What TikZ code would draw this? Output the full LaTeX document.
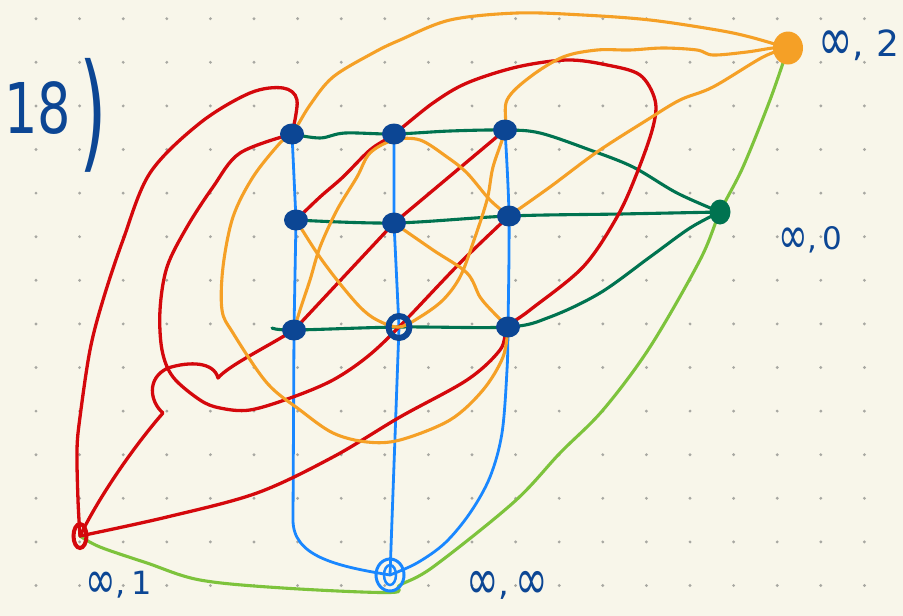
\documentclass[tikz,border=0pt]{standalone}
\usepackage{fontspec}
\newfontfamily\hand{DejaVu Sans}
\usetikzlibrary{shapes.geometric}
\definecolor{paper}{RGB}{248,246,234}
\definecolor{gdot}{RGB}{168,168,162}
\definecolor{ink}{RGB}{12,70,148}
\definecolor{lred}{RGB}{212,8,12}
\definecolor{lorange}{RGB}{245,160,38}
\definecolor{dgreen}{RGB}{0,115,80}
\definecolor{lgreen}{RGB}{125,195,60}
\definecolor{lblue}{RGB}{25,135,255}
\newcommand\myinf{\raisebox{-0.13em}{\scalebox{1.15}[1.7]{∞}}}
\pgfdeclarelayer{paperlayer}
\pgfdeclarelayer{lines}
\pgfsetlayers{paperlayer,lines,main}
\begin{document}
\begin{tikzpicture}[x=1pt,y=-1pt,
  pt/.style={ellipse, fill=ink, minimum width=24pt, minimum height=21pt, inner sep=0pt},
  ringpt/.style={ellipse, draw=ink, line width=6pt, minimum width=21pt, minimum height=22pt, inner sep=0pt},
  stroke/.style={line width=3.1pt, line cap=round, line join=round},
  bl/.style={stroke, lblue, line width=2.8pt},
  dg/.style={stroke, dgreen},
  lg/.style={stroke, lgreen},
  rd/.style={stroke, lred, line width=3.3pt},
  og/.style={stroke, lorange},
  lab/.style={text=ink, inner sep=0pt},
  sm/.style={smooth, tension=0.55}]
\begin{pgfonlayer}{paperlayer}
\fill[paper] (0,0) rectangle (903,616);
\foreach \i in {0,...,19}{\foreach \j in {0,...,13}{\fill[gdot] ({36+43.6*\i},{18.7+43.6*\j}) circle (1.6pt);}}
\end{pgfonlayer}
\useasboundingbox (0,0) rectangle (903,616);
% grid points
\node[pt] (A02) at (292,134) {};
\node[pt] (A12) at (394,134) {};
\node[pt] (A22) at (505,130) {};
\node[pt] (A01) at (296,220) {};
\node[pt] (A11) at (394,223) {};
\node[pt] (A21) at (509,216) {};
\node[pt] (A00) at (294,330) {};
\node[ringpt] (A10) at (399,327) {};
\node[pt] (A20) at (508,327) {};
% points at infinity
\node[ellipse, fill=dgreen, minimum width=21pt, minimum height=25pt, inner sep=0pt] (I0) at (720,212) {};
\node[ellipse, fill=lorange, minimum width=30pt, minimum height=33pt, inner sep=0pt] (I2) at (788,48) {};
\node[ellipse, draw=lred, line width=4pt, minimum width=13pt, minimum height=24pt, inner sep=0pt] (I1) at (80,536) {};
\node[ellipse, draw=lblue, line width=3pt, minimum width=28pt, minimum height=32pt, inner sep=0pt] (II) at (390,575) {};
\draw[lblue, line width=2.5pt] (II.center) ellipse (6pt and 10pt);
\coordinate (g0s) at (272,328);
% labels
\node[lab, anchor=base west, font=\hand\fontsize{70}{70}\selectfont] (t18) at (4,133)
  {\scalebox{0.75}[1]{18}\hspace{8pt}\raisebox{-22pt}{\scalebox{0.55}[1]{\fontsize{128}{128}\selectfont)}}};
\node[lab, anchor=base west, font=\hand\fontsize{36}{36}\selectfont] (l2) at (818,56) {\myinf,\,\,2};
\node[lab, anchor=base west, font=\hand\fontsize{31}{31}\selectfont] (l0) at (778,249) {\myinf,\,0};
\node[lab, anchor=base west, font=\hand\fontsize{32}{32}\selectfont] (l1) at (85,594) {\myinf,\,1};
\node[lab, anchor=base west, font=\hand\fontsize{34}{34}\selectfont] (li) at (466,595) {\myinf,\,\myinf};
\begin{pgfonlayer}{lines}
% blue verticals
\draw[bl] (A02.center) -- (A01.center) -- (A00.center) -- (293,520) .. controls (293,556) and (335,566) .. (II.center);
\draw[bl] (A12.center) -- (A11.center) -- (A10.center) -- (II.center);
\draw[bl] plot[sm] coordinates {(A22.center) (A21.center) (A20.center) (507,370) (502,433) (490,477) (470,513) (445,543) (417,563) (II.center)};
% dark green horizontals
\draw[dg] plot[sm] coordinates {(A02.center) (320,138) (345,133) (A12.center) (450,131) (A22.center) (540,133) (590,150) (633,167) (677,193) (I0.center)};
\draw[dg] plot[sm] coordinates {(A01.center) (A11.center) (A21.center) (620,214) (I0.center)};
\draw[dg] plot[sm] coordinates {(g0s) (A00.center) (A10.center) (A20.center) (550,317) (600,293) (650,257) (690,228) (I0.center)};
% line at infinity
\draw[lg] plot[sm] coordinates {(I1.center) (100,547) (147,563) (200,580) (283,588) (II.south) (400,585) (433,567) (514,502) (560,453) (603,410) (650,347) (700,260) (I0.center) (743,167) (770,100) (I2.center)};
% red lines through (inf,1)
\draw[rd] (I1.center) .. controls (100,495) and (135,445) .. (163,413) .. controls (150,402) and (146,378) .. (168,368) .. controls (190,361) and (214,362) .. (218,378) .. controls (228,366) and (265,348) .. (A00.center) -- (A11.center) -- (A22.center);
\draw[rd] plot[sm] coordinates {(I1.center) (167,517) (257,493) (333,457) (400,417) (467,380) (500,350) (A20.center) (530,310) (583,267) (617,217) (637,173) (653,127) (655,100) (640,75) (607,65) (567,60) (517,67) (467,83) (433,103) (A12.center) (370,150) (343,177) (320,197) (A01.center)};
\draw[rd] plot[sm] coordinates {(I1.center) (78,500) (77,450) (80,417) (90,350) (103,300) (123,240) (150,173) (200,123) (250,93) (283,88) (297,100) (A02.center)};
\draw[rd] plot[sm] coordinates {(A02.center) (240,153) (213,187) (187,227) (167,267) (160,310) (162,350) (173,377) (200,400) (220,408) (250,410) (293,397) (333,380) (367,357) (A10.center) (460,263) (A21.center)};
% orange lines through (inf,2)
\draw[og] plot[sm] coordinates {(I2.center) (750,37) (717,30) (650,20) (583,15) (517,13) (450,20) (400,40) (373,53) (333,77) (310,105) (A02.center) (280,143) (253,177) (233,217) (223,267) (222,310) (233,333) (267,383) (300,410) (333,433) (367,442) (400,440) (450,420) (483,390) (503,357) (A20.center)};
\draw[og] plot[sm] coordinates {(A20.center) (493,312) (480,297) (467,273) (433,250) (A11.center)};
\draw[og] plot[sm] coordinates {(I2.center) (763,57) (713,87) (680,100) (647,120) (597,152) (550,187) (A21.center)};
\draw[og] plot[sm] coordinates {(A21.center) (490,200) (467,173) (447,157) (420,140) (394,140) (370,153) (357,177) (337,210) (320,247) (310,280) (300,310) (A00.center)};
\draw[og] plot[sm] coordinates {(I2.center) (773,48) (747,52) (713,55) (697,50) (663,48) (630,50) (597,50) (563,57) (530,77) (507,100) (A22.center) (493,167) (487,200) (473,243) (460,277) (443,300) (420,317) (A10.center) (377,320) (360,307) (337,280) (317,253) (A01.center)};
\end{pgfonlayer}
\end{tikzpicture}
\end{document}
